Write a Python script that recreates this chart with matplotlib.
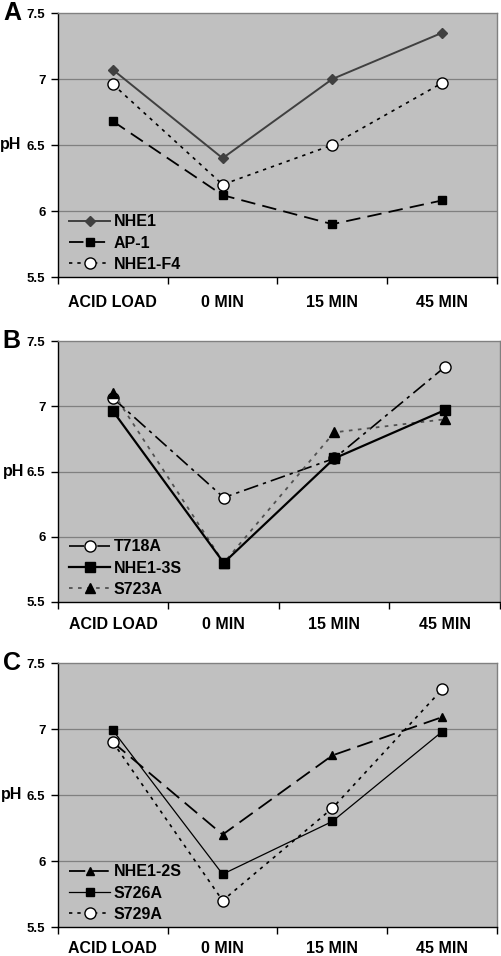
import matplotlib
matplotlib.use('Agg')
import matplotlib.pyplot as plt

plt.rcParams.update({
    'font.family': ['Liberation Sans', 'DejaVu Sans'],
    'font.weight': 'bold',
})

categories = ['ACID LOAD', '0 MIN', '15 MIN', '45 MIN']
yticks = [5.5, 6, 6.5, 7, 7.5]

# Panel A
nhe1 = [7.07, 6.40, 7.00, 7.35]
ap1 = [6.68, 6.12, 5.90, 6.08]
nhe1_f4 = [6.96, 6.20, 6.50, 6.97]

# Panel B
t718a = [7.06, 6.30, 6.60, 7.30]
nhe1_3s = [6.96, 5.80, 6.60, 6.97]
s723a = [7.10, 5.80, 6.80, 6.90]

# Panel C
nhe1_2s = [6.90, 6.20, 6.80, 7.09]
s726a = [6.99, 5.90, 6.30, 6.98]
s729a = [6.90, 5.70, 6.40, 7.30]

W, H = 502, 956
fig = plt.figure(figsize=(W / 100, H / 100), dpi=100)

def make_axes(left, top, right, bottom):
    return fig.add_axes([left / W, 1 - bottom / H, (right - left) / W, (bottom - top) / H])

def style_axes(ax, letter, pad=13, ph_x=1):
    x = list(range(len(categories)))
    ax.set_facecolor('#c0c0c0')
    ax.set_xlim(-0.5, len(categories) - 0.5)
    ax.set_ylim(5.5, 7.5)
    ax.set_yticks(yticks)
    ax.set_yticklabels(['5.5', '6', '6.5', '7', '7.5'], fontsize=9.5, fontweight='bold')
    ax.set_xticks(x)
    ax.set_xticklabels(categories, fontsize=11.5, fontweight='bold')
    ax.set_xticks([i - 0.5 for i in range(len(categories) + 1)], minor=True)
    ax.tick_params(axis='x', which='major', length=0, pad=pad)
    ax.tick_params(axis='x', which='minor', length=5, width=1, color='black')
    ax.tick_params(axis='y', length=5, width=1, pad=4)
    for v in [6, 6.5, 7]:
        ax.axhline(v, color='#808080', lw=0.9, zorder=1)
    ax.spines['left'].set_color('black')
    ax.spines['bottom'].set_color('black')
    ax.spines['top'].set_color('#808080')
    ax.spines['right'].set_color('#808080')
    for s in ax.spines.values():
        s.set_linewidth(1)
    pos = ax.get_position()
    fig.text(ph_x / W, pos.y0 + pos.height / 2, 'pH', fontsize=11.5,
             fontweight='bold', ha='left', va='center')
    ax.text(-0.105, 1.0, letter, transform=ax.transAxes, fontsize=18,
            fontweight='bold', ha='center', va='center')

def legend(ax):
    ax.legend(loc='lower left', frameon=False, handlelength=2.6,
              handletextpad=0.2, labelspacing=0.4, borderaxespad=0.0,
              bbox_to_anchor=(0.01, -0.005),
              prop={'weight': 'bold', 'size': 11.5})

x = list(range(len(categories)))

# A
axA = make_axes(58, 13, 497, 277)
style_axes(axA, 'A', ph_x=0)
axA.plot(x, nhe1, color='#404040', lw=1.4, marker='D', ms=5, label='NHE1', zorder=3)
axA.plot(x, ap1, color='black', lw=1.3, ls=(0, (8, 4)), marker='s', ms=6, label='AP-1', zorder=3)
axA.plot(x, nhe1_f4, color='black', lw=1.2, ls=(0, (2, 3)), marker='o', ms=8,
         mfc='white', mec='black', label='NHE1-F4', zorder=4)
legend(axA)

# B
axB = make_axes(58, 341, 500, 602)
style_axes(axB, 'B', pad=11, ph_x=3)
axB.plot(x, t718a, color='black', lw=1.2, ls=(0, (9, 3, 2, 3)), marker='o', ms=8,
         mfc='white', mec='black', label='T718A', zorder=3)
axB.plot(x, nhe1_3s, color='black', lw=1.6, marker='s', ms=7, label='NHE1-3S', zorder=4)
axB.plot(x, s723a, color='#505050', lw=1.3, ls=(0, (2, 3)), marker='^', ms=7,
         mfc='black', mec='black', label='S723A', zorder=3)
legend(axB)

# C
axC = make_axes(58, 663, 497, 927)
style_axes(axC, 'C', pad=10, ph_x=1)
axC.plot(x, nhe1_2s, color='black', lw=1.3, ls=(0, (9, 4)), marker='^', ms=6,
         label='NHE1-2S', zorder=3)
axC.plot(x, s726a, color='black', lw=0.9, marker='s', ms=6, label='S726A', zorder=4)
axC.plot(x, s729a, color='black', lw=1.2, ls=(0, (2, 3)), marker='o', ms=8,
         mfc='white', mec='black', label='S729A', zorder=3)
legend(axC)

fig.savefig('out.png', dpi=100, facecolor='white')
